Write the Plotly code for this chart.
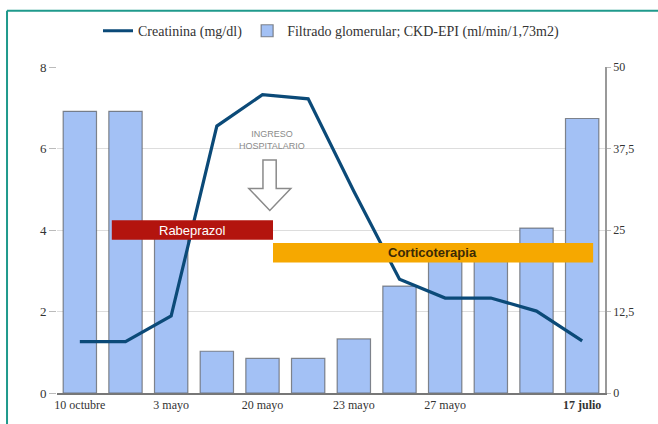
import plotly.graph_objects as go

# ---- data ----
x_idx = list(range(12))
tick_pos = [0, 2, 4, 6, 8, 11]
tick_labels = ["10 octubre", "3 mayo", "20 mayo", "23 mayo", "27 mayo", "<b>17 julio</b>"]
creatinina = [1.26, 1.26, 1.89, 6.55, 7.32, 7.22, 4.95, 2.79, 2.33, 2.33, 2.01, 1.28]
filtrado = [43.2, 43.2, 24.2, 6.4, 5.3, 5.3, 8.3, 16.4, 21.0, 21.5, 25.3, 42.1]
left_ticks = [0, 2, 4, 6, 8]
right_ticks = [0, 12.5, 25, 37.5, 50]
right_ticktext = ["0", "12,5", "25", "37,5", "50"]

SERIF = "Georgia, Liberation Serif, DejaVu Serif, serif"
SANS = "Liberation Sans, Arial, sans-serif"

fig = go.Figure()
fig.add_trace(go.Bar(
    x=x_idx, y=filtrado, name="Filtrado glomerular; CKD-EPI (ml/min/1,73m2)",
    marker=dict(color="#a3c1f5", line=dict(color="rgba(80,80,80,0.65)", width=1.2)),
    width=0.73, yaxis="y", legendrank=2,
))
fig.add_trace(go.Scatter(
    x=x_idx, y=creatinina, name="Creatinina (mg/dl)", mode="lines",
    line=dict(color="#0b4a78", width=3.2), yaxis="y2", legendrank=1,
))

shapes = [
    dict(type="rect", xref="x", yref="y2", x0=0.70, x1=4.23, y0=3.76, y1=4.24,
         fillcolor="#b3140e", line=dict(width=0), layer="above"),
    dict(type="rect", xref="x", yref="y2", x0=4.23, x1=11.24, y0=3.20, y1=3.68,
         fillcolor="#f6a800", line=dict(width=0), layer="above"),
    dict(type="path", xref="x", yref="y2",
         path="M 4.01,5.72 L 4.30,5.72 L 4.30,5.02 L 4.62,5.02 L 4.16,4.48 L 3.70,5.02 L 4.01,5.02 Z",
         fillcolor="white", line=dict(color="#8a8a8a", width=1.5), layer="above"),
    dict(type="line", xref="paper", yref="paper", x0=-0.0912, x1=-0.0912, y0=-0.2, y1=1.1727,
         line=dict(color="#1f9a8c", width=2)),
    dict(type="line", xref="paper", yref="paper", x0=-0.0912, x1=1.2, y0=1.1727, y1=1.1727,
         line=dict(color="#1f9a8c", width=2)),
]

annotations = [
    dict(x=2.46, y=4.0, xref="x", yref="y2", text="Rabeprazol", showarrow=False,
         font=dict(family=SANS, size=13, color="white")),
    dict(x=7.73, y=3.44, xref="x", yref="y2", text="<b>Corticoterapia</b>", showarrow=False,
         font=dict(family=SANS, size=13, color="#3b2a05")),
    dict(x=4.21, y=6.2, xref="x", yref="y2", text="INGRESO<br>HOSPITALARIO", showarrow=False,
         font=dict(family=SANS, size=9, color="#8a8a8a")),
]

fig.update_layout(
    width=658, height=424,
    margin=dict(l=57, r=53, t=67, b=27),
    paper_bgcolor="white", plot_bgcolor="white",
    showlegend=True,
    legend=dict(orientation="h", x=0.5, xanchor="center", y=1.11, yanchor="middle",
                font=dict(family=SERIF, size=14, color="#333333"), itemwidth=30,
                traceorder="normal"),
    xaxis=dict(range=[-0.5, 11.5], tickmode="array", tickvals=tick_pos, ticktext=tick_labels,
               showgrid=False, showline=True, linecolor="#777777", linewidth=1.5,
               ticks="", tickfont=dict(family=SERIF, size=12, color="#333333"), zeroline=False),
    yaxis=dict(range=[0, 50], side="right", tickmode="array", tickvals=right_ticks,
               ticktext=right_ticktext, showgrid=False, showline=True, linecolor="#999999",
               linewidth=1.5, ticks="outside", ticklen=4, tickcolor="#bbbbbb",
               tickfont=dict(family=SERIF, size=12, color="#333333"), zeroline=False),
    yaxis2=dict(range=[0, 8], side="left", overlaying="y", tickmode="array", tickvals=left_ticks,
                showgrid=True, gridcolor="#dddddd", gridwidth=1, showline=False,
                ticks="outside", ticklen=7, tickcolor="#bbbbbb",
                tickfont=dict(family=SERIF, size=13, color="#333333"), zeroline=False),
    shapes=shapes,
    annotations=annotations,
)

fig.write_html("out.html",
               config={"displayModeBar": False},
               post_script="document.body.style.margin='0px';document.body.style.overflow='hidden';")
